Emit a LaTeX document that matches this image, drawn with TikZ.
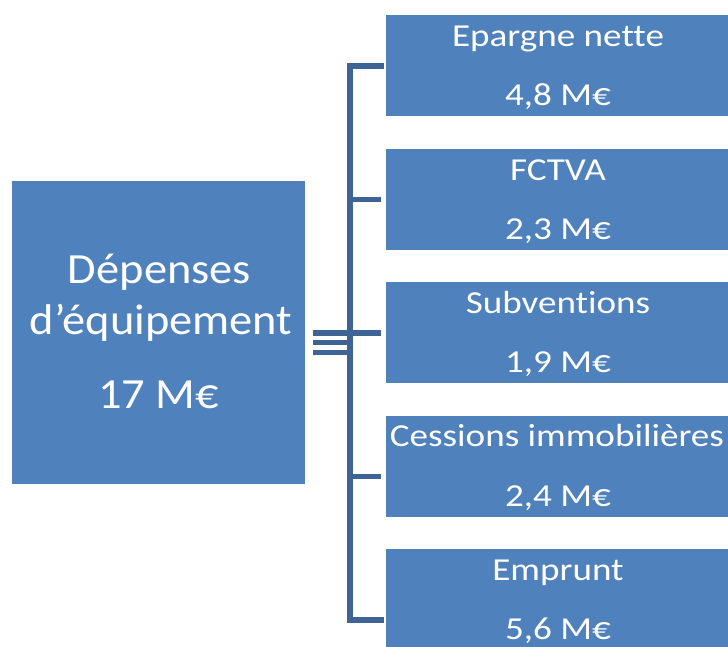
\documentclass[tikz,border=0pt]{standalone}
\usepackage{fontspec}
\setmainfont[Ligatures=NoCommon]{Carlito}
\definecolor{boxblue}{RGB}{79,129,189}
\definecolor{linkblue}{RGB}{62,100,150}
\newcommand{\widebig}[1]{\scalebox{1.08}[1]{#1}}
\newcommand{\widesmall}[1]{\scalebox{1.16}[1]{#1}}
\begin{document}
\begin{tikzpicture}[x=1pt,y=-1pt,
  block/.style={fill=boxblue,draw=none,inner sep=0pt},
  bigtxt/.style={text=white,anchor=base,font=\fontsize{43}{50}\selectfont,inner sep=0pt},
  smalltxt/.style={text=white,anchor=base,font=\fontsize{32}{38}\selectfont,inner sep=0pt},
  link/.style={draw=linkblue,line width=5.5pt},
  spine/.style={draw=linkblue,line width=6pt,line cap=rect}]
\useasboundingbox (0,0) rectangle (728,646);
\clip (0,0) rectangle (728,646);

% total expense block
\node[block,minimum width=293pt,minimum height=303pt] (total) at (158.5,332.5) {};
\node[bigtxt] (t1) at (159.5,283) {\widebig{Dépenses}};
\node[bigtxt] (t2) at (161,334) {\widebig{d’équipement}};
\node[bigtxt] (t3) at (158.5,408) {\widebig{17 M€}};

% funding blocks
\node[block,minimum width=344pt,minimum height=101pt] (b1) at (558,65.5) {};
\node[block,minimum width=344pt,minimum height=101pt] (b2) at (558,199) {};
\node[block,minimum width=344pt,minimum height=101pt] (b3) at (558,332.5) {};
\node[block,minimum width=344pt,minimum height=101pt] (b4) at (558,466.5) {};
\node[block,minimum width=344pt,minimum height=101pt] (b5) at (558,599.5) {};

\node[smalltxt] (l1) at (558,46) {\widesmall{Epargne nette}};
\node[smalltxt] (v1) at (558,105) {\widesmall{4,8 M€}};
\node[smalltxt] (l2) at (558,180) {\widesmall{FCTVA}};
\node[smalltxt] (v2) at (558,239) {\widesmall{2,3 M€}};
\node[smalltxt] (l3) at (558,313) {\widesmall{Subventions}};
\node[smalltxt] (v3) at (558,372) {\widesmall{1,9 M€}};
\node[smalltxt] (l4) at (557,446) {\widesmall{Cessions immobilières}};
\node[smalltxt] (v4) at (558,506) {\widesmall{2,4 M€}};
\node[smalltxt] (l5) at (558,580) {\widesmall{Emprunt}};
\node[smalltxt] (v5) at (558,639) {\widesmall{5,6 M€}};

% bracket joints
\coordinate (s1) at (350,65.5);
\coordinate (s2) at (350,199.5);
\coordinate (s3) at (350,333);
\coordinate (s4) at (350,476.5);
\coordinate (s5) at (350,620);
\coordinate (e1) at ([xshift=-5pt]b1.west |- s1);
\coordinate (e2) at ([xshift=-5pt]b2.west |- s2);
\coordinate (e3) at ([xshift=-5pt]b3.west |- s3);
\coordinate (e4) at ([xshift=-5pt]b4.west |- s4);
\coordinate (e5) at ([xshift=-5pt]b5.west |- s5);
\coordinate (m1) at ([xshift=8pt]total.east |- s3);
\coordinate (m2) at (313,342.5);
\coordinate (m3) at (313,352.5);

% bracket
\draw[spine] (e1) -- (s1) -- (s5) -- (e5);
\draw[link] (s2) -- (e2);
\draw[link] (s4) -- (e4);
\draw[link] (m1) -- (e3);
\draw[link] (m2) -- (m2 -| s3);
\draw[link] (m3) -- (m3 -| s3);
\end{tikzpicture}
\end{document}
